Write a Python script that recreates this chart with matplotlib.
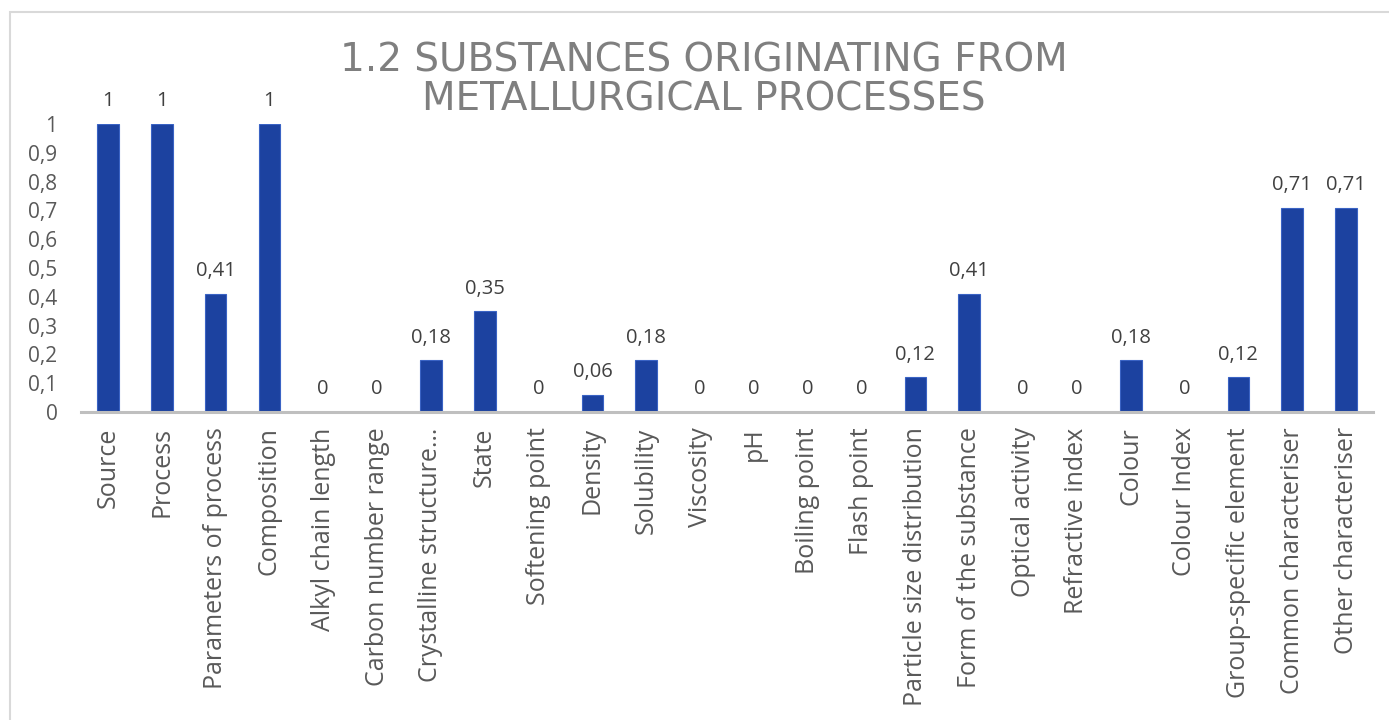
import numpy as np
import matplotlib
matplotlib.use("Agg")
import matplotlib.pyplot as plt
from matplotlib.patches import Rectangle

categories = ["Source", "Process", "Parameters of process", "Composition",
              "Alkyl chain length", "Carbon number range", "Crystalline structure…",
              "State", "Softening point", "Density", "Solubility", "Viscosity",
              "pH", "Boiling point", "Flash point", "Particle size distribution",
              "Form of the substance", "Optical activity", "Refractive index",
              "Colour", "Colour Index", "Group-specific element",
              "Common characteriser", "Other characteriser"]
values = [1, 1, 0.41, 1, 0, 0, 0.18, 0.35, 0, 0.06, 0.18, 0, 0, 0, 0, 0.12,
          0.41, 0, 0, 0.18, 0, 0.12, 0.71, 0.71]
yticks = [0, 0.1, 0.2, 0.3, 0.4, 0.5, 0.6, 0.7, 0.8, 0.9, 1]

plt.rcParams['font.family'] = ['Open Sans', 'DejaVu Sans']
text_color = '#595959'

W, H = 1389, 720
fig = plt.figure(figsize=(W / 100, H / 100), dpi=100)

# outer chart frame
fig.patches.append(Rectangle((10 / W, -0.05), 1.1, 1 - 12 / H + 0.05,
                             transform=fig.transFigure, fill=False,
                             edgecolor='#d9d9d9', linewidth=1.5))

ax = fig.add_axes([81 / W, 1 - 412 / H, (1373 - 81) / W, (412 - 124) / H])

x = np.arange(len(categories))
bars = ax.bar(x, values, width=0.4, color='#1c42a0', edgecolor='#3a63c4',
              linewidth=0.8, zorder=2)

def fmt(v):
    return ('%g' % v).replace('.', ',')

for xi, v in zip(x, values):
    ax.annotate(fmt(v), (xi, v), xytext=(0, 9), textcoords='offset points',
                ha='center', va='bottom', fontsize=14.5, color='#404040')

ax.set_xlim(-0.5, len(categories) - 0.5)
ax.set_ylim(0, 1)
ax.set_yticks(yticks)
ax.set_yticklabels([fmt(t) for t in yticks], fontsize=15, color=text_color)
ax.set_xticks(x)
ax.set_xticklabels(categories, rotation=90, fontsize=18, color=text_color)
ax.tick_params(axis='both', length=0)
ax.tick_params(axis='x', pad=11)
ax.tick_params(axis='y', pad=17)

for s in ['top', 'right', 'left']:
    ax.spines[s].set_visible(False)
ax.spines['bottom'].set_color('#bfbfbf')
ax.spines['bottom'].set_linewidth(2.2)

fig.text(704 / W, 1 - 80 / H, "1.2 SUBSTANCES ORIGINATING FROM\nMETALLURGICAL PROCESSES",
         ha='center', va='center', fontsize=28, color='#7f7f7f',
         linespacing=1.05, family='DejaVu Sans')

fig.savefig("out.png", dpi=100)
